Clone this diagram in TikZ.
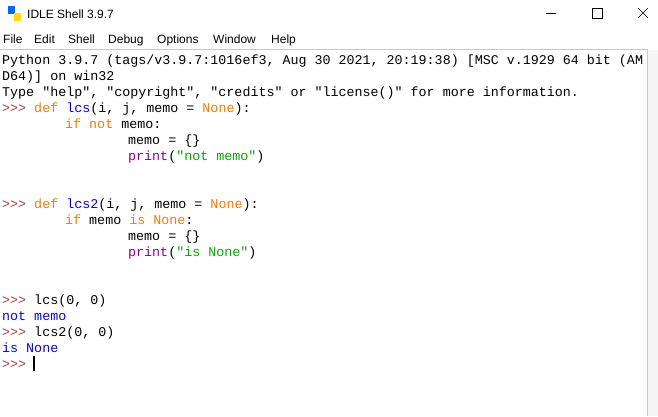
\documentclass[tikz,border=0pt]{standalone}
\usepackage{fontspec}
\setmainfont{Liberation Sans}
\newfontfamily\mono{Liberation Mono}
\definecolor{prompt}{RGB}{165,60,60}
\definecolor{kw}{RGB}{255,119,0}
\definecolor{str}{RGB}{0,170,0}
\definecolor{bltin}{RGB}{144,0,144}
\definecolor{defn}{RGB}{0,0,255}
\definecolor{stdout}{RGB}{0,0,255}
\definecolor{frame}{RGB}{200,200,200}
\newcommand{\pr}{\textcolor{prompt}{>{}>{}>}}
\newcommand{\kw}[1]{\textcolor{kw}{#1}}
\newcommand{\str}[1]{\textcolor{str}{#1}}
\begin{document}
\begin{tikzpicture}[x=1pt,y=-1pt]
  \tikzstyle{code} = [anchor=base west, inner sep=0pt, font=\fontsize{13.35}{16}\mono]
  \tikzstyle{menu} = [anchor=base west, inner sep=0pt, font=\fontsize{12}{14}\selectfont]
  \useasboundingbox[fill=white] (0,0) rectangle (658,416);
  % title bar
  \fill[blue!60!cyan] (8,6) rectangle (15,14);
  \fill[yellow!80!orange] (14,13) rectangle (21,21);
  \node[menu] (title) at (27,18) {IDLE Shell 3.9.7};
  \draw (546,13) -- (556,13);
  \draw (592,8) rectangle (602,18);
  \draw (638,8) -- (648,18) (638,18) -- (648,8);
  % menu bar
  \node[menu] (mfile) at (3,43) {File};
  \node[menu] (medit) at (34,43) {Edit};
  \node[menu] (mshell) at (68,43) {Shell};
  \node[menu] (mdebug) at (108,43) {Debug};
  \node[menu] (mopt) at (157,43) {Options};
  \node[menu] (mwin) at (213,43) {Window};
  \node[menu] (mhelp) at (271,43) {Help};
  \draw[frame] (0,49) -- (647,49) -- (647,416);
  \fill[black!4] (648,50) rectangle (658,416);
  % shell text
  \node[code] (l1) at (2,64) {Python 3.9.7 (tags/v3.9.7:1016ef3, Aug 30 2021, 20:19:38) [MSC v.1929 64 bit (AM};
  \node[code] (l2) at (2,80) {D64)] on win32};
  \node[code] (l3) at (2,96) {Type "help", "copyright", "credits" or "license()" for more information.};
  \node[code] (l4) at (2,112) {\pr{} \kw{def} \textcolor{defn}{lcs}(i, j, memo = \kw{None}):};
  \node[code] (l5) at (65,128) {\kw{if} \kw{not} memo:};
  \node[code] (l6) at (128,144) {memo = \{\}};
  \node[code] (l7) at (128,160) {\textcolor{bltin}{print}(\str{"not memo"})};
  \node[code] (l8) at (2,208) {\pr{} \kw{def} \textcolor{defn}{lcs2}(i, j, memo = \kw{None}):};
  \node[code] (l9) at (65,224) {\kw{if} memo \kw{is} \kw{None}:};
  \node[code] (l10) at (128,240) {memo = \{\}};
  \node[code] (l11) at (128,256) {\textcolor{bltin}{print}(\str{"is None"})};
  \node[code] (l12) at (2,304) {\pr{} lcs(0, 0)};
  \node[code, text=stdout] (l13) at (2,320) {not memo};
  \node[code] (l14) at (2,336) {\pr{} lcs2(0, 0)};
  \node[code, text=stdout] (l15) at (2,352) {is None};
  \node[code] (l16) at (2,368) {\pr};
  \draw[line width=1.5pt] (34,356) -- (34,371);
\end{tikzpicture}
\end{document}
